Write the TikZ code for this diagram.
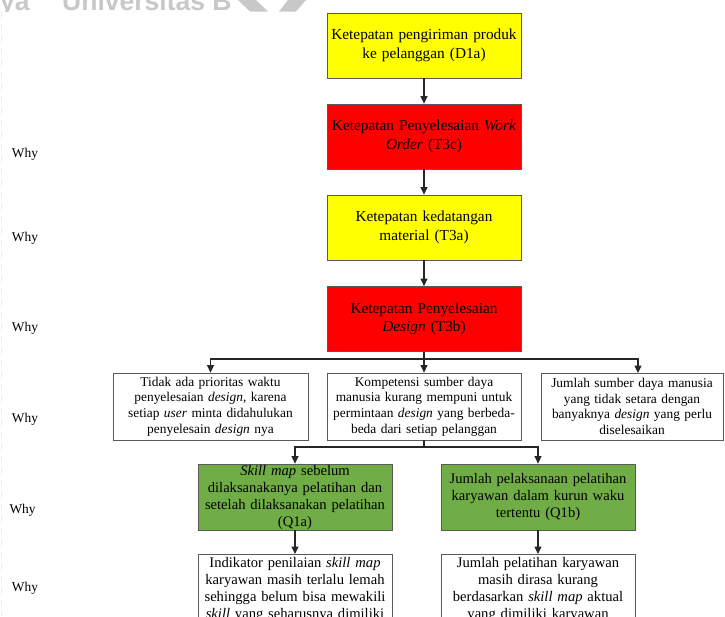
\documentclass[tikz,border=0pt]{standalone}
\usepackage{fontspec}
\setmainfont{Liberation Serif}
\newfontfamily\wmfont{Liberation Sans}
\usetikzlibrary{arrows.meta}
\definecolor{boxyellow}{HTML}{FFFF00}
\definecolor{boxred}{HTML}{FF0000}
\definecolor{boxgreen}{HTML}{70AD47}
\definecolor{edgegray}{HTML}{5A5A5A}
\definecolor{wmgray}{HTML}{C8C8C8}
\begin{document}
\begin{tikzpicture}[x=1pt, y=-1pt,
  box/.style={draw=edgegray, line width=0.8pt, inner sep=0pt, align=center},
  topbox/.style={box, minimum width=194pt, minimum height=65pt, text width=190pt,
    font=\fontsize{15.3}{18.5}\selectfont},
  causebox/.style={box, minimum height=67pt, font=\fontsize{13.4}{15.6}\selectfont},
  qbox/.style={box, fill=boxgreen, minimum width=194pt, minimum height=66pt, text width=192pt,
    font=\fontsize{14.6}{17}\selectfont},
  rootbox/.style={box, minimum width=194pt, minimum height=90pt},
  roottext/.style={inner sep=0pt, align=center, text width=192pt,
    font=\fontsize{14.6}{17}\selectfont},
  whylabel/.style={inner sep=0pt, font=\fontsize{13.4}{15.6}\selectfont},
  link/.style={-{Triangle[length=7.5pt,width=7pt]}, line width=1.1pt, draw=black!85},
  joint/.style={line width=1.1pt, draw=black!85}
]
\useasboundingbox (0,0) rectangle (725,616);
\clip (0,0) rectangle (725,616);
\fill[white] (0,0) rectangle (725,616);

% faded letterhead strip along the top edge
\begin{scope}
  \clip (0,0) rectangle (725,11.5);
  \node[anchor=base west, inner sep=0pt, text=wmgray,
        font=\wmfont\bfseries\fontsize{26.5}{26.5}\selectfont] (wmA) at (0,10) {ya};
  \node[anchor=base west, inner sep=0pt, text=wmgray,
        font=\wmfont\bfseries\fontsize{26.5}{26.5}\selectfont] (wmB) at (62,10) {Universitas B};
  \fill[wmgray] (238,0) -- (256,0) -- (268,11.5) -- (250,11.5) -- cycle;
  \fill[wmgray] (288,0) -- (306,0) -- (296,11.5) -- (279,11.5) -- cycle;
\end{scope}

% faint dashed margin line
\draw[gray!16, line width=1pt, dash pattern=on 7pt off 5pt] (1,12) -- (1,616);

% main chain
\node[topbox, fill=boxyellow] (d1a) at (424,45.5) {Ketepatan pengiriman produk\\ke pelanggan (D1a)};
\node[topbox, fill=boxred] (t3c) at (424,136.5) {Ketepatan Penyelesaian \textit{Work}\\\textit{Order} (T3c)};
\node[topbox, fill=boxyellow] (t3a) at (424,227.5) {Ketepatan kedatangan\\material (T3a)};
\node[topbox, fill=boxred] (t3b) at (424,319) {Ketepatan Penyelesaian\\\textit{Design} (T3b)};

% causes of late design
\node[causebox, minimum width=195pt, text width=191pt] (c1) at (210.5,406.5)
  {Tidak ada prioritas waktu\\penyelesaian \textit{design,} karena\\setiap \textit{user} minta didahulukan\\penyelesain \textit{design} nya};
\node[causebox, minimum width=194pt, text width=191pt] (c2) at (424,406.5)
  {Kompetensi sumber daya\\manusia kurang mempuni untuk\\permintaan \textit{design} yang berbeda-\\beda dari setiap pelanggan};
\node[causebox, minimum width=182pt, text width=179pt] (c3) at (632,406.5)
  {Jumlah sumber daya manusia\\yang tidak setara dengan\\banyaknya \textit{design} yang perlu\\diselesaikan};

% quality indicators
\node[qbox] (q1a) at (295,497)
  {\textit{Skill map} sebelum\\dilaksanakanya pelatihan dan\\setelah dilaksanakan pelatihan\\(Q1a)};
\node[qbox] (q1b) at (538,497)
  {Jumlah pelaksanaan pelatihan\\karyawan dalam kurun waku\\tertentu (Q1b)};

% root causes
\node[rootbox, anchor=north] (r1) at (295,554) {};
\node[rootbox, anchor=north] (r2) at (538,554) {};
\node[roottext, anchor=north] (r1t) at (295,556.7)
  {Indikator penilaian \textit{skill map}\\karyawan masih terlalu lemah\\sehingga belum bisa mewakili\\\textit{skill} yang seharusnya dimiliki};
\node[roottext, anchor=north] (r2t) at (538,556.7)
  {Jumlah pelatihan karyawan\\masih dirasa kurang\\berdasarkan \textit{skill map} aktual\\yang dimiliki karyawan};

% connectors
\draw[link] (d1a.south) -- (t3c.north);
\draw[link] (t3c.south) -- (t3a.north);
\draw[link] (t3a.south) -- (t3b.north);

\coordinate (splitA) at (424,359);
\coordinate (c3in) at (638,373);
\draw[joint] (t3b.south) -- (splitA);
\draw[link] (splitA) -| (c1.north);
\draw[link] (splitA) -- (c2.north);
\draw[link] (splitA) -| (c3in);

\coordinate (splitB) at (424,447);
\draw[joint] (c2.south) -- (splitB);
\draw[link] (splitB) -| (q1a.north);
\draw[link] (splitB) -| (q1b.north);

\draw[link] (q1a.south) -- (r1.north);
\draw[link] (q1b.south) -- (r2.north);

% level labels
\node[whylabel, anchor=base west] (w1) at (11.7,157.3) {Why};
\node[whylabel, anchor=base west] (w2) at (11.7,241.3) {Why};
\node[whylabel, anchor=base west] (w3) at (11.7,331.3) {Why};
\node[whylabel, anchor=base west] (w4) at (11.7,422.3) {Why};
\node[whylabel, anchor=base west] (w5) at (9.3,513.3) {Why};
\node[whylabel, anchor=base west] (w6) at (11.7,591.5) {Why};
\end{tikzpicture}
\end{document}
